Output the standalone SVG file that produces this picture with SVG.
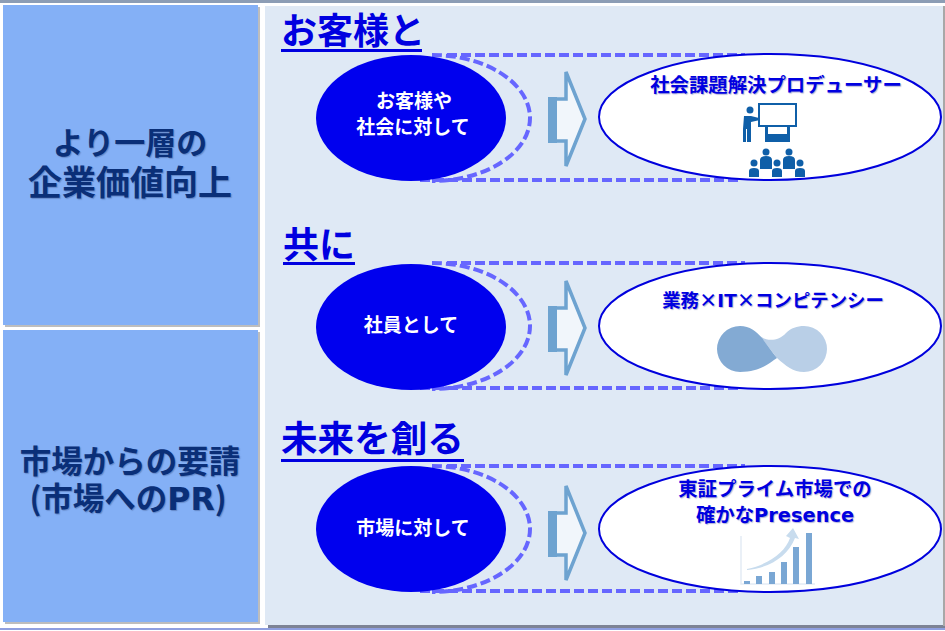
<svg xmlns="http://www.w3.org/2000/svg" width="945" height="631" viewBox="0 0 945 631">
<defs>
<style>
text{font-family:"Noto Sans CJK JP","Noto Sans",sans-serif;font-weight:700;text-anchor:middle}
.lat{font-family:"DejaVu Sans",sans-serif}
.side{font-size:32px;fill:#0a2f78;text-shadow:1px 1px 1px rgba(40,60,110,.35)}
.head{font-size:36px;fill:#0000e0;text-anchor:start}
.in{font-size:19px;fill:#fff}
.out{font-size:19.4px;fill:#0000e0;text-shadow:1px 1px 1px rgba(0,0,120,.3)}
.dash{fill:none;stroke:#6666ff;stroke-width:4;stroke-dasharray:10 4}
.blue{fill:#0000ee}
.white{fill:#fff;stroke:#0000dd;stroke-width:2}
.arrowbody{fill:#f1f6fb;stroke:#6ea3d0;stroke-width:3.5}
.band{fill:#6ea3d0}
.ul{fill:#0000e0}
.ico{fill:#0f5fa8}
</style>
<g id="conn-shape">
<path class="dash" d="M447 0H745M432 0A98 63 0 0 1 432 126M420 125H740"/>
</g>
<g id="block">
<path class="arrowbody" d="M552 27H566V0L585 47L566 94V69H552Z"/>
<rect class="band" x="548" y="25" width="9" height="46"/>
</g>
</defs>
<rect width="945" height="631" fill="#fff"/>
<rect x="0" y="0" width="945" height="3" fill="#8c9db5"/>
<rect x="5" y="7" width="255" height="320" fill="#bdbdbd"/>
<rect x="5" y="332" width="255" height="292" fill="#bdbdbd"/>
<rect x="268" y="625" width="677" height="3" fill="#7d8395"/>
<rect x="0" y="628" width="945" height="2" fill="#8f9fe0"/>
<rect x="943" y="6" width="2" height="620" fill="#a8a8a8"/>
<rect x="265" y="6" width="678" height="619" fill="#dfe9f5"/>
<g id="connectors">
<use href="#conn-shape" x="0" y="55"/>
<use href="#conn-shape" x="0" y="263"/>
<use href="#conn-shape" x="0" y="466"/>
</g>
<g id="side-1"><rect x="3" y="5" width="255" height="320" fill="#84b0f6"/>
<text class="side" x="130" y="154" style="font-size:31px">より一層の</text><text class="side" x="130" y="195" style="font-size:34px">企業価値向上</text></g>
<g id="side-2"><rect x="3" y="330" width="255" height="292" fill="#84b0f6"/>
<text class="side" x="130" y="473" style="font-size:31.5px">市場からの要請</text><text class="side" x="128" y="510" style="font-size:31.5px">(市場への<tspan class="lat">PR</tspan>)</text></g>
<g id="head-1"><text class="head" x="281" y="44">お客様と</text><rect class="ul" x="281" y="49" width="141" height="3"/></g>
<g id="head-2"><text class="head" x="283" y="258">共に</text><rect class="ul" x="283" y="262" width="72" height="3"/></g>
<g id="head-3"><text class="head" x="281" y="452" style="font-size:36.6px">未来を創る</text><rect class="ul" x="281" y="459" width="183" height="3"/></g>
<g id="source-1"><ellipse class="blue" cx="411" cy="118" rx="95" ry="63"/>
<text class="in" x="414" y="108">お客様や</text><text class="in" x="413" y="134">社会に対して</text></g>
<g id="source-2"><ellipse class="blue" cx="411" cy="327" rx="95" ry="63"/><text class="in" x="411" y="332">社員として</text></g>
<g id="source-3"><ellipse class="blue" cx="411" cy="529" rx="95" ry="63"/><text class="in" x="413" y="535">市場に対して</text></g>
<g id="arrow-1"><use href="#block" y="72"/></g>
<g id="arrow-2"><use href="#block" y="281"/></g>
<g id="arrow-3"><use href="#block" y="486"/></g>
<g id="target-1"><ellipse class="white" cx="770" cy="117" rx="171" ry="63"/>
<text class="out" x="776" y="92">社会課題解決プロデューサー</text>
<g class="ico">
<circle cx="750" cy="110" r="3.5"/><path d="M744 116H751L759 118L760 120L751 122V142H747V129H746V142H743V129H743Z"/>
<path d="M758 103H797V127H790V138H790V142H765V138H765V127H758ZM760 105V125H795V105ZM768 127V134H787V127Z" fill-rule="evenodd"/>
<circle cx="766" cy="152" r="3.5"/><circle cx="789" cy="152" r="3.5"/>
<path d="M760 169V160Q760 156 766 156Q772 156 772 160V169ZM783 169V160Q783 156 789 156Q795 156 795 160V169Z"/>
<circle cx="754" cy="163" r="3.5"/><circle cx="777" cy="163" r="3.5"/><circle cx="800" cy="163" r="3.5"/>
<path d="M749 177V171Q749 168 754 168Q759 168 759 171V177ZM772 177V171Q772 168 777 168Q782 168 782 171V177ZM795 177V171Q795 168 800 168Q805 168 805 171V177Z"/>
</g></g>
<g id="target-2"><ellipse class="white" cx="770" cy="326" rx="171" ry="63"/>
<text class="out" x="773" y="307" style="font-size:18.4px">業務×<tspan class="lat">IT</tspan>×コンピテンシー</text>
<path d="M760 336C766 341 778 342 786 333C791 328 797 326 804 326A23 23 0 0 1 804 372C793 372 786 366 777 358Z" fill="#b9cfe7"/>
<path d="M740 326C750 326 756 331 762 338C768 346 772 352 777 358C770 362 762 372 740 372A23 23 0 0 1 740 326Z" fill="#83aad3"/></g>
<g id="target-3"><ellipse class="white" cx="770" cy="529" rx="171" ry="63"/>
<text class="out" x="775" y="496">東証プライム市場での</text><text class="out" x="775" y="522">確かな<tspan class="lat">Presence</tspan></text>
<path d="M741 536V584H815" fill="none" stroke="#e3ecf5" stroke-width="1.5"/>
<path d="M747 569C770 564 785 552 790 538L786 536L793 528L799 539L795 538C788 556 770 568 747 570Z" fill="#c8dcee"/>
<g fill="#7aa7d4"><rect x="744" y="581" width="6" height="3"/><rect x="756" y="576" width="6" height="8"/><rect x="769" y="572" width="6" height="12"/><rect x="781" y="562" width="6" height="22"/><rect x="793" y="547" width="6" height="37"/><rect x="806" y="533" width="6" height="51"/></g></g>
</svg>
